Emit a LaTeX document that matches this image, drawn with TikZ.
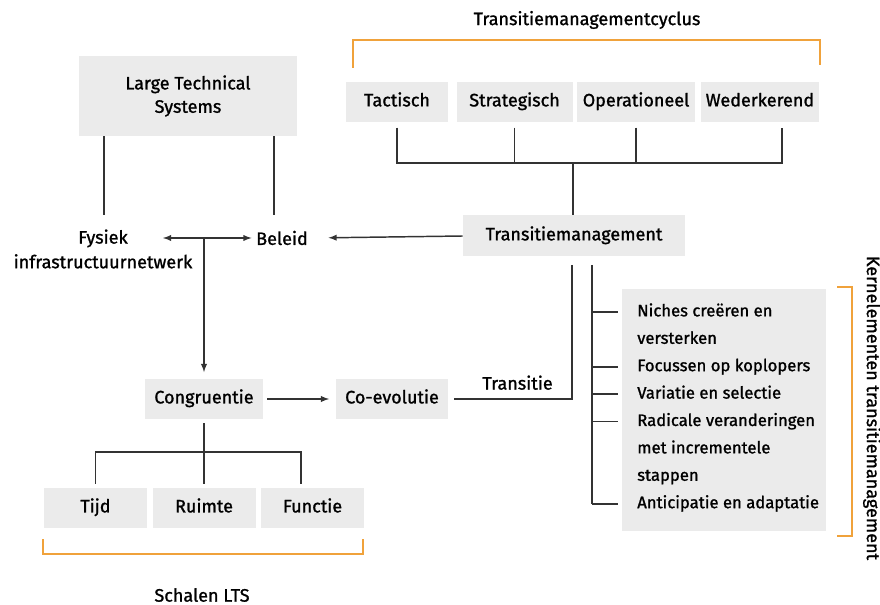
\documentclass[tikz,border=0pt]{standalone}
\usepackage{fontspec}
\setmainfont{Fira Sans}[BoldFont={Fira Sans}, BoldFeatures={FakeBold=1.2}]
\usetikzlibrary{arrows,positioning}
\definecolor{boxgray}{HTML}{EBEBEB}
\definecolor{linegray}{HTML}{333333}
\definecolor{bracketorange}{HTML}{F0A23B}

\begin{document}
\begin{tikzpicture}
        [
            x = 0.75pt, y = -0.75pt,
            > = latex,
            font = \fontsize{13.5}{17.5}\selectfont\bfseries,
            box/.style = {
                fill=boxgray, minimum height=30pt, inner sep=2pt,
                text height=1.5ex, text depth=.25ex},
            item/.style = {
                anchor=west, inner sep=0pt, font=\fontsize{12.5}{15}\selectfont\bfseries,
                text height=1.5ex, text depth=.25ex},
            link/.style = {draw=linegray, line width=1.1pt},
            brace/.style = {draw=bracketorange, line width=1pt}
        ]
        \useasboundingbox (0,0) rectangle (880,605);

        % cyclus bovenaan
        \node (cyc) at (587,20) {Transitiemanagementcyclus};
        \node [box, minimum width=76.5pt] (tac) at (397,102) {Tactisch};
        \node [box, minimum width=87pt] (str) [right=6pt of tac] {Strategisch};
        \node [box, minimum width=88.5pt] (ope) [right=3pt of str] {Operationeel};
        \node [box, minimum width=88.5pt] (wed) [right=4pt of ope] {Wederkerend};
        \draw [brace] (353,68) |- (820,40) -- (820,65);

        \node [box, minimum width=166.5pt, minimum height=30.75pt] (tm) at (574,236) {Transitiemanagement};
        \coordinate (hub) at (573,163);
        \coordinate (wedtap) at ([xshift=16.5pt]wed.south);
        \draw [link] ([yshift=-4pt]tac.south) -- (tac.south |- hub) -- (wedtap |- hub) -- ([yshift=-4pt]wedtap);
        \draw [link] ([yshift=-4pt]str.south) -- (str.south |- hub);
        \draw [link] ([yshift=-4pt]ope.south) -- (ope.south |- hub);
        \draw [link] (hub) -- (hub |- tm.north);

        % LTS
        \node [fill=boxgray, minimum width=163.5pt, minimum height=60pt, align=center] (lts) at (188,96) {Large Technical\\Systems};
        \node [align=center] (fys) at (103,249) {Fysiek\\[1pt]infrastructuurnetwerk};
        \node (bel) at (282,238) {Beleid};
        \coordinate (fystap) at (104,215);
        \coordinate (beltap) at (274,215);
        \draw [link] (lts.south -| fystap) -- (fystap);
        \draw [link] (lts.south -| beltap) -- (beltap);
        \coordinate (fysR) at (163,238);
        \coordinate (split) at (204,238);
        \draw [link, <->] (fysR) -- (bel.west);
        \draw [link, ->, shorten >=12pt] (tm.west) -- (bel.east);

        % congruentie en co-evolutie
        \node [box, minimum width=88.5pt] (con) at (204,399) {Congruentie};
        \node [box, minimum width=84pt] (coe) at (392,399) {Co-evolutie};
        \draw [link, ->, shorten >=5pt] (split) -- (con.north);
        \draw [link, ->, shorten <=3pt, shorten >=5pt] (con) -- (coe);
        \coordinate (tmL) at ([xshift=-1.5pt]tm.south);
        \coordinate (tmR) at ([xshift=13.5pt]tm.south);
        \draw [link, shorten >=4pt] ([yshift=-6pt]tmL) |- (coe.east)
            node [pos=0.72, above=3pt] {Transitie};

        % schalen
        \node [box, minimum width=77.25pt] (tij) at (95.5,508) {Tijd};
        \node [box, minimum width=77.25pt] (rui) [right=3.75pt of tij] {Ruimte};
        \node [box, minimum width=77.25pt] (fun) [right=3.75pt of rui] {Functie};
        \coordinate (fork) at (204,452);
        \coordinate (funtap) at ([xshift=-8.6pt]fun.north);
        \draw [link] ([yshift=-3pt]con.south) -- ([yshift=3pt]con.south |- rui.north);
        \draw [link] ([yshift=3pt]tij.north) |- (fork) -| ([yshift=3pt]funtap);
        \draw [brace] (43,539) |- (363,554) -- (363,539);
        \node (sch) at (202,595) {Schalen LTS};

        % kernelementen
        \node [box, minimum width=153pt, minimum height=181.5pt] (kern) at (724,410) {};
        \foreach \txt [count=\i] in {Niches creëren en, versterken, Focussen op koplopers,
            Variatie en selectie, Radicale veranderingen, met incrementele, stappen,
            Anticipatie en adaptatie}
            \node [item] (it\i) at (637,{312+27.4*(\i-1)}) {\txt};
        \draw [link] ([yshift=-6pt]tmR) -- (tmR |- it8);
        \foreach \i in {1,3,4,5,8}
            \draw [link, shorten >=3pt] (tmR |- it\i) -- (kern.west |- it\i);
        \draw [brace] (837,287) -| (852,536) -- (837,536);
        \node [rotate=-90] (kernlabel) at (872,408) {Kernelementen transitiemanagement};
    \end{tikzpicture}
\end{document}
